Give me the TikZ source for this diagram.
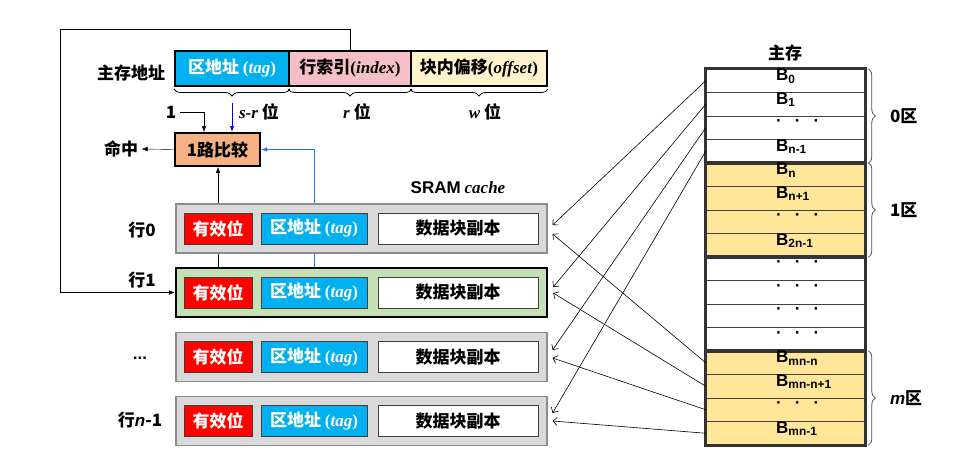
\documentclass[tikz,border=0pt]{standalone}
\usepackage{fontspec}
\setmainfont{Noto Sans CJK SC}
\newfontfamily\ars{Liberation Sans}
\newfontfamily\tms{Liberation Serif}
\usetikzlibrary{arrows.meta,positioning,decorations.pathreplacing,backgrounds}
\definecolor{tagc}{HTML}{00B0F0}
\definecolor{idxc}{HTML}{F5BFC8}
\definecolor{offc}{HTML}{FFF2CC}
\definecolor{cmpc}{HTML}{F4B183}
\definecolor{rowgray}{HTML}{D9D9D9}
\definecolor{rowline}{HTML}{8C8C8C}
\definecolor{selc}{HTML}{C5E0B4}
\definecolor{memy}{HTML}{FFE699}
\definecolor{lblue}{HTML}{1E6EFF}
\newcommand\memdots{·\hspace{13pt}·\hspace{13pt}·}

\begin{document}
\begin{tikzpicture}[x=1pt, y=-1pt, font=\fontsize{17}{19}\selectfont\bfseries,
  fld/.style={draw, line width=2pt, minimum height=35pt, inner sep=0pt},
  cmpbox/.style={draw, line width=2pt, fill=cmpc, minimum width=85pt, minimum height=33pt},
  rowbox/.style={draw=rowline, fill=rowgray, line width=1.2pt, minimum width=371pt, minimum height=49pt},
  selrow/.style={draw=black, fill=selc, line width=2.4pt, minimum width=371pt, minimum height=49pt},
  inbox/.style={draw=black!75, line width=0.9pt, minimum height=31pt, inner sep=0pt},
  vbox/.style={inbox, fill=red, text=white, minimum width=68pt},
  tbox/.style={inbox, fill=tagc, text=white, minimum width=106pt},
  dbox/.style={inbox, fill=white, minimum width=160pt},
  mrow/.style={draw=black!75, line width=0.6pt, minimum width=159pt, minimum height=23.5pt, inner sep=0pt},
  zone/.style={draw=black!80, line width=2.5pt},
  blab/.style={anchor=west, inner sep=0pt, font=\ars\bfseries\fontsize{17}{19}\selectfont},
  brc/.style={decorate, decoration={brace, amplitude=7pt}, draw=black!70, line width=0.8pt},
  marr/.style={-{Straight Barb[length=4pt]}, line width=0.6pt},
  >={Latex[length=6pt]}]
  \useasboundingbox (0,0) rectangle (975,453);

  % main memory address
  \node (addr) at (131,73) {主存地址};
  \node[fld, fill=tagc, text=white, minimum width=114pt] (tagf) at (232,68.5) {区地址 {\tms(\textit{tag})}};
  \node[fld, fill=idxc, minimum width=122pt] (idxf) at (350,68.5) {行索引{\tms(\textit{index})}};
  \node[fld, fill=offc, minimum width=136pt] (offf) at (479,68.5) {块内偏移{\tms(\textit{offset})}};
  \draw[brc, draw=black, decoration={mirror}] ([yshift=-2pt]tagf.south west) -- ([yshift=-2pt]tagf.south east);
  \draw[brc, draw=black, decoration={mirror}] ([yshift=-2pt]idxf.south west) -- ([yshift=-2pt]idxf.south east);
  \draw[brc, draw=black, decoration={mirror}] ([yshift=-2pt]offf.south west) -- ([yshift=-2pt]offf.south east);
  \node (srw) at (259,112) {{\tms\itshape s-r} 位};
  \node (rw) at (357,112) {{\tms\itshape r} 位};
  \node (ww) at (485,112) {{\tms\itshape w} 位};
  \coordinate (srtip) at (232,103);

  % comparator
  \node[cmpbox] (cmp) at (217.5,149.5) {1路比较};
  \node (hit) at (121,149) {命中};
  \node (one) at (171,112) {1};
  \draw[->] (cmp.west) -- (hit.east);
  \draw[->] (one.east) -| ([xshift=30pt]cmp.north west);
  \draw[->, blue, line width=1pt] (srtip) -- (srtip |- cmp.north);

  % cache lines
  \node (sram) at (458,188) {{\ars SRAM} {\tms\itshape cache}};
  \foreach \k/\yy/\st in {0/228.5/rowbox, 1/292.5/selrow, 2/357/rowbox, 3/421/rowbox} {
    \node[\st] (r\k) at (361.5,\yy) {};
    \node[vbox] (v\k) at (218,\yy) {有效位};
    \node[tbox] (t\k) at (314,\yy) {区地址 {\tms(\textit{tag})}};
    \node[dbox] (d\k) at (458,\yy) {数据块副本};
  }
  \node (l0) at (142,230) {行0};
  \node (l1) at (142,280) {行1};
  \node (l2) at (140,358) {\ars ...};
  \node (l3) at (140,420) {行{\ars\itshape n}-1};

  \begin{scope}[on background layer]
    \draw[->] (v1.north) -- (v1.north |- cmp.south);
    \draw[->, lblue, line width=1pt] (t1.north) |- (cmp.east);
  \end{scope}
  \coordinate (loopc) at (60,29);
  \draw[->] (idxf.north) |- (loopc) |- (r1.west);

  % main memory
  \node (mem) at (785,53) {主存};
  \foreach \i/\lab/\fc in {0/{B\textsubscript{0}}/white, 1/{B\textsubscript{1}}/white,
      2/\memdots/white, 3/{B\textsubscript{n-1}}/white,
      4/{B\textsubscript{n}}/memy, 5/{B\textsubscript{n+1}}/memy,
      6/\memdots/memy, 7/{B\textsubscript{2n-1}}/memy,
      8/\memdots/white, 9/\memdots/white, 10/\memdots/white, 11/\memdots/white,
      12/{B\textsubscript{mn-n}}/memy, 13/{B\textsubscript{mn-n+1}}/memy,
      14/\memdots/memy, 15/{B\textsubscript{mn-1}}/memy}
    \node[mrow, fill=\fc] (m\i) at (785.5,80.75+23.5*\i) {};
  \draw[zone] (m0.north west) rectangle (m3.south east);
  \draw[zone] (m4.north west) rectangle (m7.south east);
  \draw[zone] (m8.north west) rectangle (m11.south east);
  \draw[zone] (m12.north west) rectangle (m15.south east);
  \foreach \i/\lab in {0/{B\textsubscript{0}}, 1/{B\textsubscript{1}},
      2/\memdots, 3/{B\textsubscript{n-1}},
      4/{B\textsubscript{n}}, 5/{B\textsubscript{n+1}},
      6/\memdots, 7/{B\textsubscript{2n-1}},
      8/\memdots, 9/\memdots, 10/\memdots, 11/\memdots,
      12/{B\textsubscript{mn-n}}, 13/{B\textsubscript{mn-n+1}},
      14/\memdots, 15/{B\textsubscript{mn-1}}}
    \node[blab] (b\i) at (776,76.25+23.5*\i) {\lab};

  \draw[brc] ([xshift=3pt]m0.north east) -- ([xshift=3pt]m3.south east) node[midway, right=18pt] (z0) {0区};
  \draw[brc] ([xshift=3pt]m4.north east) -- ([xshift=3pt]m7.south east) node[midway, right=18pt] (z1) {1区};
  \draw[brc] ([xshift=3pt]m12.north east) -- ([xshift=3pt]m15.south east) node[midway, right=18pt] (zm) {{\ars\itshape m}区};

  % block mapping
  \foreach \s/\t/\dy in {0/0/3.5, 1/1/5.5, 2/2/7, 3/3/8, 12/0/-5.5, 13/1/-0.5, 14/2/-1, 15/3/0}
    \draw[marr] (m\s.west) -- ([xshift=5pt, yshift=\dy pt]r\t.east);
\end{tikzpicture}
\end{document}
